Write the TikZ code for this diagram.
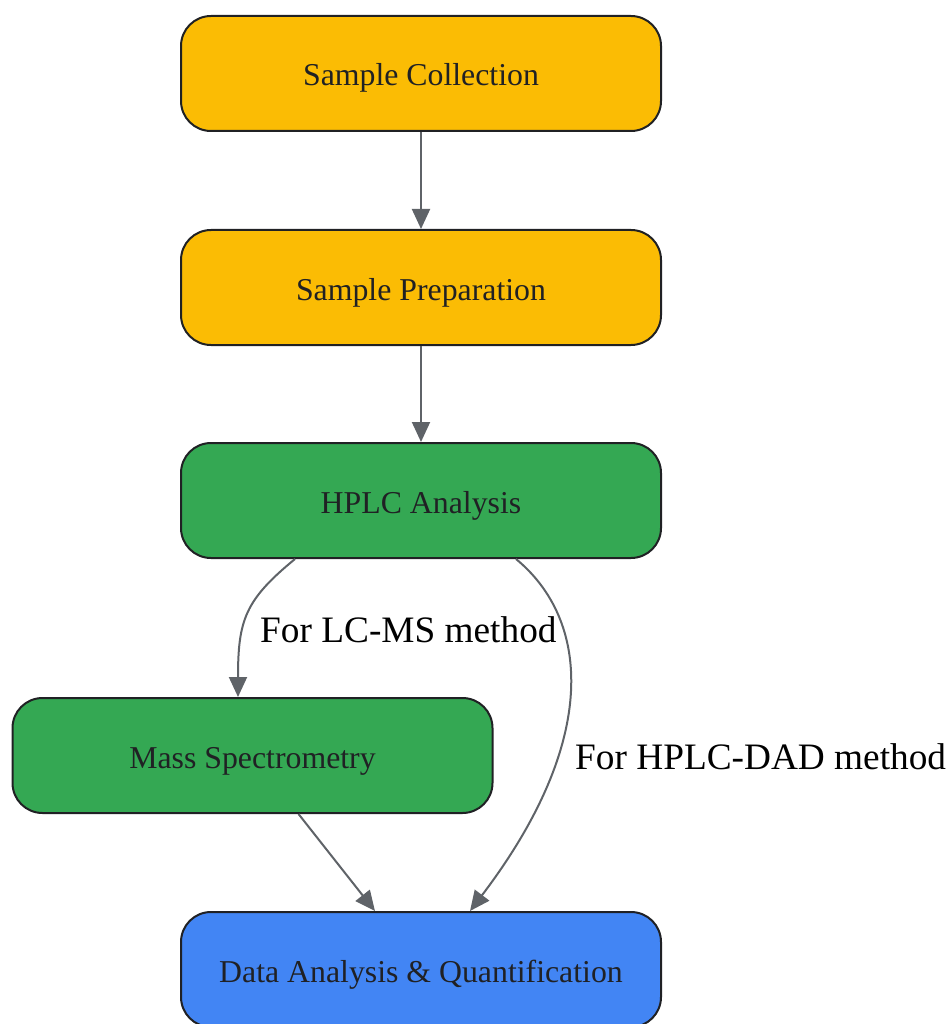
\documentclass[tikz,border=0pt]{standalone}
\usepackage{fontspec}
\setmainfont{Liberation Serif}
\usetikzlibrary{arrows.meta}

\definecolor{prepyellow}{HTML}{FBBC04}
\definecolor{runsgreen}{HTML}{34A853}
\definecolor{datablue}{HTML}{4285F4}
\definecolor{flowgray}{HTML}{5F6368}
\definecolor{inkdark}{HTML}{202124}

\begin{document}
\begin{tikzpicture}[x=1pt,y=-1pt,
    box/.style={draw=inkdark,line width=2pt,rounded corners=30pt,
        minimum width=480pt,minimum height=115pt,text=inkdark,
        text height=25pt,text depth=0pt,
        font=\fontsize{31.8}{38}\selectfont},
    flow/.style={draw=flowgray,line width=2pt,-{Triangle[length=20pt,width=18pt]}},
    methodlabel/.style={font=\fontsize{37.3}{44}\selectfont,inner sep=0pt,anchor=base west}]

\useasboundingbox (0,0) rectangle (948,1024);

% Steps
\node[box,fill=prepyellow] (collection) at (421,73.5) {Sample Collection};
\node[box,fill=prepyellow] (preparation) at (421,287.5) {Sample Preparation};
\node[box,fill=runsgreen] (hplc) at (421,500.5) {HPLC Analysis};
\node[box,fill=runsgreen] (massspec) at (252.5,755.5) {Mass Spectrometry};
\node[box,fill=datablue] (quant) at (421,969.5) {Data Analysis \& Quantification};

% Straight arrows
\draw[flow] (collection) -- (preparation);
\draw[flow] (preparation) -- (hplc);
\draw[flow] (massspec) -- (quant);

% LC-MS branch
\draw[flow] ([xshift=-126]hplc.south) .. controls (245,600) and (238,620) .. ([xshift=-14.5]massspec.north);
\node[methodlabel] (lcms) at (260,642) {For LC-MS method};

% HPLC-DAD branch
\draw[flow] ([xshift=95]hplc.south) .. controls (590,620) and (600,740) .. ([xshift=49]quant.north);
\node[methodlabel] (dad) at (575,769) {For HPLC-DAD method};

\end{tikzpicture}
\end{document}
